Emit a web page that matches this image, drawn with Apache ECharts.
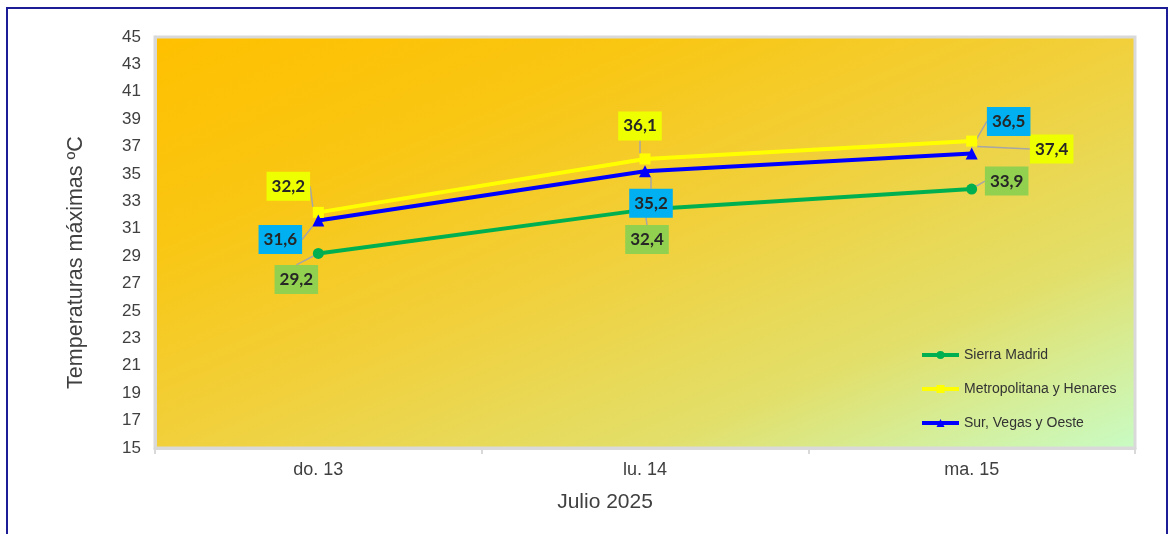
<!DOCTYPE html>
<html>
<head>
<meta charset="utf-8">
<script src="https://cdn.jsdelivr.net/npm/echarts@6/dist/echarts.min.js"></script>
<style>
html,body{margin:0;padding:0;background:#fff;}
#chart{position:absolute;left:0;top:0;width:1172px;height:534px;}
#frame{position:absolute;left:6px;top:7px;width:1158px;height:540px;border:2px solid #1c1c96;pointer-events:none;}
</style>
</head>
<body>
<div id="chart"></div>
<div id="frame"></div>
<script>
// ---- data ----
const categories = ['do. 13', 'lu. 14', 'ma. 15'];
const seriesNames = ['Sierra Madrid', 'Metropolitana y Henares', 'Sur, Vegas y Oeste'];
const sierraMadrid = [29.2, 32.4, 33.9];
const metropolitana = [32.2, 36.1, 37.4];
const surVegasOeste = [31.6, 35.2, 36.5];
const yMin = 15, yMax = 45, yStep = 2;
const yAxisTitle = 'Temperaturas máximas ºC';
const xAxisTitle = 'Julio 2025';

// ---- label layout (offsets of label centres from points, px) ----
const sierraLabelOffsets = [[-22, 26], [2, 30], [35, -8]];
const metroLabelOffsets = [[-30, -26], [-5, -33], [80, 8]];
const surLabelOffsets = [[-38, 19], [6, 32], [37, -32]];

// gradient whose iso-lines follow the anti-diagonal of the plot rect
const gw = 980, gh = 411;
const k = 2 * gw * gh / (gw * gw + gh * gh);
const bg = new echarts.graphic.LinearGradient(0, 0, k * gh / gw, k * gw / gh, [
  {offset: 0, color: '#ffc000'},
  {offset: 0.25, color: '#f9c612'},
  {offset: 0.5, color: '#f1d03c'},
  {offset: 0.75, color: '#e2df6a'},
  {offset: 1, color: '#c8fcc6'}
]);

function makeSeries(name, data, color, symbol, size, offsets, boxColor) {
  return {
    name: name,
    type: 'line',
    data: data,
    symbol: symbol,
    symbolSize: size,
    lineStyle: {color: color, width: 4},
    itemStyle: {color: color},
    label: {
      show: true,
      position: 'inside',
      formatter: p => String(p.value).replace('.', ','),
      backgroundColor: boxColor,
      color: '#262626',
      fontFamily: 'Lato',
      fontWeight: 'bold',
      fontSize: 17,
      padding: [6, 5, 6, 5]
    },
    labelLine: {show: true, lineStyle: {color: '#a6a6a6', width: 1.5}},
    labelLayout: function (params) {
      const o = offsets[params.dataIndex];
      const r = params.rect;
      return {
        x: r.x + r.width / 2 + o[0],
        y: r.y + r.height / 2 + o[1],
        align: 'center',
        verticalAlign: 'middle'
      };
    },
    emphasis: {disabled: true},
    animation: false
  };
}

const chart = echarts.init(document.getElementById('chart'), null, {renderer: 'canvas'});
chart.setOption({
  animation: false,
  grid: {
    left: 155, right: 37, top: 37, bottom: 86,
    show: true,
    backgroundColor: bg,
    borderColor: '#d9d9d9',
    borderWidth: 3
  },
  legend: {
    orient: 'vertical',
    left: 915, top: 343,
    itemWidth: 37, itemHeight: 10,
    itemGap: 20,
    lineStyle: {width: 4},
    textStyle: {fontFamily: 'Liberation Sans', fontSize: 14, color: '#333'},
    data: seriesNames
  },
  xAxis: {
    type: 'category',
    data: categories,
    boundaryGap: true,
    axisLine: {lineStyle: {color: '#d9d9d9', width: 3}},
    axisTick: {show: true, length: 6, lineStyle: {color: '#d9d9d9', width: 2}},
    axisLabel: {fontFamily: 'Liberation Sans', fontSize: 18, color: '#404040', margin: 13},
    name: xAxisTitle,
    nameLocation: 'middle',
    nameGap: 44,
    nameTextStyle: {fontFamily: 'Liberation Sans', fontSize: 21, color: '#404040', padding: [0, 80, 0, 0]}
  },
  yAxis: {
    type: 'value',
    min: yMin, max: yMax, interval: yStep,
    axisLine: {show: true, lineStyle: {color: '#d9d9d9', width: 3}},
    axisTick: {show: false},
    splitLine: {show: false},
    axisLabel: {fontFamily: 'Liberation Sans', fontSize: 17, color: '#404040', margin: 14},
    name: yAxisTitle,
    nameLocation: 'middle',
    nameGap: 68,
    nameTextStyle: {fontFamily: 'Liberation Sans', fontSize: 21.5, color: '#404040', padding: [0, 40, 0, 0]}
  },
  series: [
    makeSeries(seriesNames[0], sierraMadrid, '#00b050', 'circle', 11, sierraLabelOffsets, '#92d050'),
    makeSeries(seriesNames[1], metropolitana, '#ffff00', 'rect', 11, metroLabelOffsets, '#eeff00'),
    makeSeries(seriesNames[2], surVegasOeste, '#0000ff', 'triangle', 12, surLabelOffsets, '#00b0f0')
  ]
});
</script>
</body>
</html>
